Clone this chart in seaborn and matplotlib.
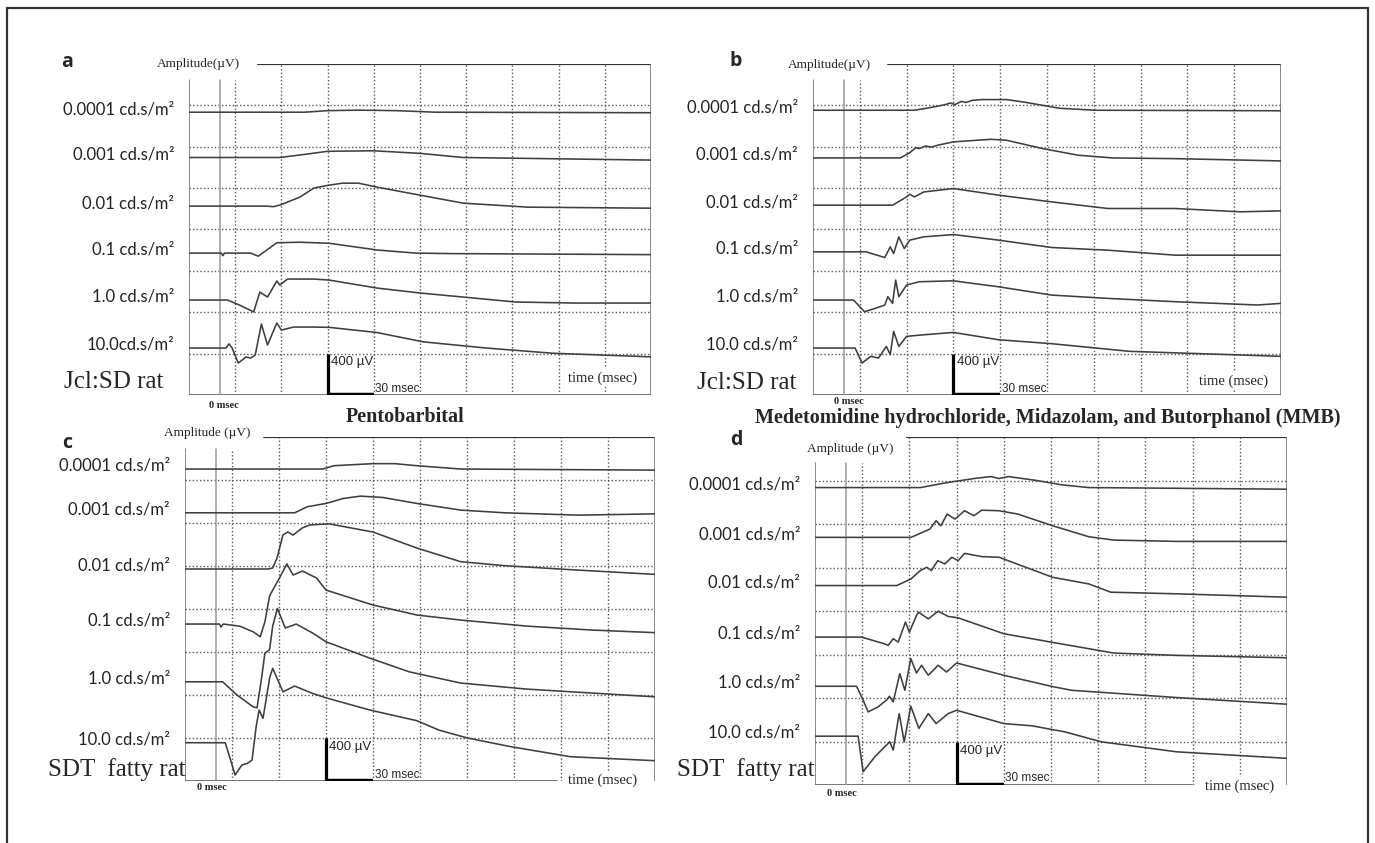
import numpy as np
import pandas as pd
import matplotlib
matplotlib.use("Agg")
import matplotlib.pyplot as plt
import seaborn as sns
from matplotlib.patches import Rectangle
from matplotlib.transforms import blended_transform_factory

# flash intensities (rows, top to bottom)
levels = ["0.0001 cd.s/m²", "0.001 cd.s/m²", "0.01 cd.s/m²",
          "0.1 cd.s/m²", "1.0 cd.s/m²", "10.0 cd.s/m²"]
levels_a = levels[:5] + ["10.0cd.s/m²"]

# time in msec after the flash, amplitude in uV relative to the pre-flash level
# a: Jcl:SD rat, pentobarbital
a_t = [
    [-20, 55, 70, 90, 115, 140, 280],
    [-20, 39, 55, 70, 100, 130, 158, 280],
    [-20, 30, 35, 39, 52, 61, 71, 80, 90, 102, 130, 158, 200, 280],
    [-20, 1, 2, 3, 20, 25, 37, 52, 71, 102, 127, 150, 280],
    [-20, 5, 13, 22, 26, 31, 37, 39, 44, 52, 61, 71, 102, 130, 158, 192, 230, 280],
    [-20, 4, 6, 8, 12, 17, 20, 23, 27, 31, 37, 40, 48, 61, 71, 102, 132, 173, 216, 280],
]
a_uv = [
    [0, 0, 15, 20, 15, 0, -5],
    [0, 0, 30, 60, 65, 40, 0, -25],
    [0, 0, -5, 10, 87, 174, 203, 222, 222, 184, 106, 29, -10, -20],
    [0, 0, -25, 0, 0, -30, 100, 105, 95, 30, 0, -5, -15],
    [0, 0, -50, -115, 77, 29, 184, 145, 203, 203, 203, 193, 116, 68, 29, -19, -29, -29],
    [0, 0, 40, 0, -145, -87, -97, -68, 232, 29, 242, 174, 203, 203, 200, 150, 60, 0, -50, -85],
]

# b: Jcl:SD rat, MMB
b_t = [
    [-20, 45, 55, 65, 68, 71, 75, 78, 82, 88, 104, 116, 127, 138, 161, 280],
    [-20, 36, 42, 46, 48, 52, 56, 60, 70, 94, 104, 127, 150, 172, 212, 280],
    [-20, 31, 40, 42, 45, 51, 70, 99, 133, 169, 212, 254, 280],
    [-20, 14, 26, 29.5, 31.7, 35, 38.5, 42, 51, 70, 99, 133, 169, 212, 280],
    [-20, 6, 13, 20, 26, 28, 31, 33, 35, 40, 48, 70, 99, 133, 169, 212, 265, 280],
    [-20, 7, 11.5, 17, 22, 27, 29.5, 31.7, 35, 40, 51, 70, 99, 133, 183, 280],
]
b_uv = [
    [0, 0, 25, 55, 70, 55, 85, 75, 95, 103, 103, 77, 48, 19, 0, -5],
    [0, 0, 50, 100, 90, 115, 105, 123, 155, 180, 171, 91, 26, 0, -7, -29],
    [0, 0, 80, 106, 80, 128, 161, 97, 32, -32, -32, -64, -55],
    [0, 0, -55, 48, -16, 145, 32, 113, 145, 167, 113, 42, 16, -32, -32],
    [0, 0, -113, -80, -48, 32, -32, 193, 32, 145, 177, 186, 128, 48, 16, -16, -48, -32],
    [0, 0, -145, -80, -97, 16, -64, 161, 16, 113, 128, 151, 80, 42, -32, -80],
]

# c: SDT fatty rat, pentobarbital
c_t = [
    [-20, 68, 75, 100, 114, 128, 156, 280],
    [-20, 50, 58, 70, 81, 92, 106, 128, 156, 184, 231, 280],
    [-20, 33, 36, 38.7, 42.5, 45.6, 49, 54.6, 59.6, 72, 100, 128, 156, 184, 226, 280],
    [-20, 2, 3, 4.4, 15, 23.5, 28, 31, 34, 36, 40, 45, 49, 55, 64, 70, 100, 128, 156, 198, 240, 280],
    [-20, 4, 13, 23.5, 26, 29, 31, 32.3, 34, 36, 39, 44, 51, 61.5, 70, 98, 123, 156, 198, 240, 280],
    [-20, 5.7, 12, 16.3, 19.7, 22.8, 25.4, 27.3, 29.8, 34.2, 36, 42.5, 50, 61.5, 70.4, 98, 128, 142, 160, 188, 226, 280],
]
c_uv = [
    [0, 0, 31, 50, 50, 31, 0, -10],
    [0, 0, 56, 87, 133, 155, 143, 87, 25, 0, -22, -10],
    [0, 0, 10, 100, 316, 344, 316, 380, 410, 420, 344, 195, 68, 31, -6, -50],
    [0, 0, -28, 0, -20, -72, -118, 20, 260, 316, 420, 560, 456, 493, 428, 316, 177, 84, 37, -19, -56, -80],
    [0, 0, -121, -233, -242, 47, 267, 280, 300, 520, 682, 500, 537, 453, 372, 220, 93, -12, -68, -105, -140],
    [0, 0, -300, -207, -193, -161, 149, 304, 227, 614, 692, 474, 527, 458, 416, 304, 205, 118, 45, -37, -130, -167],
]

# d: SDT fatty rat, MMB
d_t = [
    [-20, 47, 64, 81, 88, 92, 97, 103, 120, 137, 154, 280],
    [-20, 41, 53, 57, 60, 64, 69, 75, 81, 86, 97, 109, 131, 154, 170, 210, 280],
    [-20, 32, 41, 47, 51, 54, 58, 62.5, 67, 71, 75, 86, 97, 114, 131, 154, 168, 210, 280],
    [-20, 9.5, 24, 26.5, 29.7, 32.9, 37.5, 40, 44.5, 45.8, 52, 58.3, 64.7, 71, 100, 130, 170, 210, 280],
    [-20, 6.4, 10.6, 13.8, 20, 25.4, 27.3, 29.7, 33.9, 37.1, 40.9, 44.5, 47.7, 52, 58.3, 63.6, 70, 100, 130, 143, 210, 280],
    [-20, 7.4, 10.6, 18, 24.3, 27.5, 29.7, 33.5, 36.7, 40.9, 46, 52, 57, 64.7, 70, 100, 118, 139, 162, 210, 280],
]
d_uv = [
    [0, 0, 46, 83, 95, 101, 83, 101, 67, 25, 0, -15],
    [0, 0, 76, 153, 107, 214, 168, 245, 199, 250, 245, 214, 107, 6, -25, -37, -37],
    [0, 0, 61, 138, 168, 138, 229, 199, 260, 229, 296, 266, 260, 168, 76, 15, -61, -76, -107],
    [0, 0, -61, -76, -15, -46, 138, 46, 199, 229, 168, 238, 190, 177, 31, -46, -147, -168, -190],
    [0, 0, -128, -236, -190, -128, -92, -144, 116, -37, 254, 122, 193, 101, 193, 131, 214, 101, 0, -37, -104, -165],
    [0, 0, -327, -190, -98, -52, -128, 208, -52, 275, 71, 208, 116, 208, 238, 116, 95, 39, -52, -144, -204],
]

# ---- layout (pixels of the 1375x843 canvas) ----
W, H = 1375, 843
SERIF = "Liberation Serif"
SANS = "Lato"


def fx(px):
    return px / W


def fy(py):
    return 1 - py / H


sns.set_theme(style="white")
plt.rcParams["font.family"] = ["Lato", "DejaVu Sans"]

fig = plt.figure(figsize=(W / 100, H / 100), dpi=100)
fig.patch.set_facecolor("white")

panels = [
    # box = (left, top, right, bottom) px, top0 = where the top line starts, left_top = top of left axis
    dict(key="a", t=a_t, uv=a_uv, labels=levels_a, base=[2734, 2296, 1826, 1372, 918, 454],
         box=(189, 64, 651, 395), top0=258, left_top=80),
    dict(key="b", t=b_t, uv=b_uv, labels=levels, base=[2753, 2292, 1835, 1384, 918, 454],
         box=(813, 64, 1281, 395), top0=888, left_top=80),
    dict(key="c", t=c_t, uv=c_uv, labels=levels, base=[2902, 2495, 1972, 1460, 923, 356],
         box=(185, 437, 655, 781), top0=264, left_top=449, bottom_end=557),
    dict(key="d", t=d_t, uv=d_uv, labels=levels, base=[2735, 2277, 1834, 1360, 908, 449],
         box=(815, 437, 1287, 785), top0=907, left_top=463, bottom_end=1192),
]

trace_col = "#3f3f3f"
grid_col = "#555555"
frame_col = "#6a6a6a"

for p in panels:
    l, t, r, b = p["box"]
    ax = fig.add_axes([fx(l), fy(b), (r - l) / W, (b - t) / H])
    xt = ax.get_xaxis_transform()
    yt = ax.get_yaxis_transform()
    lt = (b - p["left_top"]) / (b - t)

    # dotted grid, one cell = 30 msec x 400 uV
    for gx in range(10, 280, 30):
        y1 = lt if gx == 10 else 1.0
        ax.plot([gx, gx], [0, y1], transform=xt, color=grid_col, lw=1.0,
                ls=(0, (1, 1.6)), zorder=1)
    for gy in range(400, 3200, 400):
        ax.plot([0, 1], [gy, gy], transform=yt, color=grid_col, lw=1.0,
                ls=(0, (1, 1.6)), zorder=1)

    # frame
    ax.plot([0, 0], [0, lt], transform=ax.transAxes, color=frame_col, lw=1.1, zorder=2)
    ax.plot([(p["top0"] - l) / (r - l), 1], [1, 1], transform=ax.transAxes,
            color="#333333", lw=1.6, zorder=2)
    ax.plot([1, 1], [0, 1], transform=ax.transAxes, color=frame_col, lw=1.1, zorder=2)
    bend = (p.get("bottom_end", r) - l) / (r - l)
    ax.plot([0, bend], [0, 0], transform=ax.transAxes, color=frame_col, lw=1.3, zorder=2)
    # flash onset
    ax.plot([0, 0], [0, lt], transform=xt, color="#9a9a9a", lw=1.1, zorder=2)

    # traces
    rows = []
    for i, (tt, vv) in enumerate(zip(p["t"], p["uv"])):
        for a, v in zip(tt, vv):
            rows.append((p["labels"][i], a, v + p["base"][i]))
    df = pd.DataFrame(rows, columns=["level", "t", "y"])
    sns.lineplot(data=df, x="t", y="y", units="level", estimator=None, sort=False,
                 color=trace_col, lw=1.15, ax=ax, zorder=3)
    ax.set_xlim(-20, 280)
    ax.set_ylim(0, 3200)
    ax.set_axis_off()

    # row labels
    lab_tr = blended_transform_factory(ax.transAxes, ax.transData)
    for i, lab in enumerate(p["labels"]):
        ax.text(-15 / (r - l), p["base"][i] + 30, lab, transform=lab_tr, ha="right",
                va="center", fontsize=12, family=SANS, color="#222222")

    # scale bar 400 uV / 30 msec
    ax.plot([70, 70], [0, 400], color="black", lw=2.3, zorder=4, solid_capstyle="butt")
    ax.plot([70, 100], [0, 0], color="black", lw=3.2, zorder=4, solid_capstyle="butt")
    ax.text(72, 315, "400 µV", fontsize=9.5, family="Liberation Sans", va="center", ha="left")
    ax.text(101, 60, "30 msec", fontsize=8.5, family="Liberation Sans", va="center", ha="left")

# panel letters
for key, x, y in [("a", 67, 62), ("b", 736, 61), ("c", 67, 443), ("d", 736, 440)]:
    fig.text(fx(x), fy(y), key, fontsize=14, fontweight="bold", family="Open Sans",
             ha="center", va="center")

# amplitude labels
for s, x, y in [("Amplitude(µV)", 240, 64), ("Amplitude(µV)", 871, 65),
                ("Amplitude (µV)", 250, 433), ("Amplitude (µV)", 893, 449)]:
    fig.text(fx(x), fy(y), s, fontsize=9.5, family=SERIF, ha="right", va="center")

# strain labels
for s, x, y in [("Jcl:SD rat", 64, 382), ("Jcl:SD rat", 697, 383),
                ("SDT  fatty rat", 48, 770), ("SDT  fatty rat", 677, 770)]:
    fig.text(fx(x), fy(y), s, fontsize=18, family=SERIF, ha="left", va="center")

# time labels
for x, y in [(603, 378), (1234, 381), (603, 780), (1240, 786)]:
    fig.text(fx(x), fy(y), "time (msec)", fontsize=10.5, family=SERIF, ha="center",
             va="center", zorder=5,
             bbox=dict(boxstyle="square,pad=0.15", fc="white", ec="none"))

# flash onset labels
for x, y in [(224, 405), (849, 401), (212, 787), (842, 793)]:
    fig.text(fx(x), fy(y), "0 msec", fontsize=7.5, fontweight="bold", family=SERIF,
             ha="center", va="center")

# anaesthesia titles
fig.text(fx(405), fy(417), "Pentobarbital", fontsize=14.5, fontweight="bold",
         family=SERIF, ha="center", va="center")
fig.text(fx(1048), fy(418), "Medetomidine hydrochloride, Midazolam, and Butorphanol (MMB)",
         fontsize=14.5, fontweight="bold", family=SERIF, ha="center", va="center")

# outer frame
fig.add_artist(Rectangle((fx(7), -0.02), (1368 - 7) / W, fy(8) + 0.02, fill=False,
                         lw=1.6, ec="#333333", transform=fig.transFigure))

fig.savefig("out.png", dpi=100, facecolor="white")
